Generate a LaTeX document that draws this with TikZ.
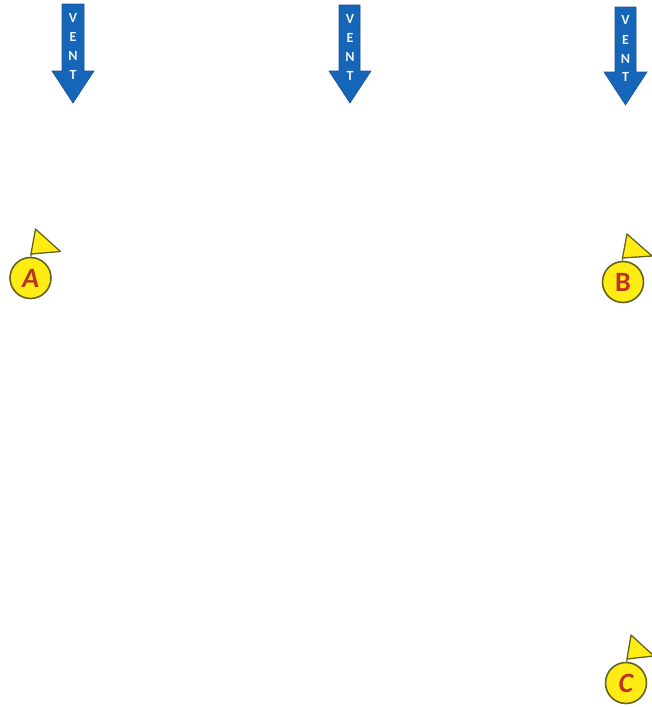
\documentclass[tikz,border=0pt]{standalone}
\usepackage{fontspec}
\setmainfont{Carlito}
\definecolor{ventblue}{RGB}{21,101,184}
\definecolor{ventedge}{RGB}{30,80,150}
\definecolor{markyellow}{RGB}{255,236,20}
\definecolor{markedge}{RGB}{100,100,30}
\definecolor{markred}{RGB}{190,50,30}
\begin{document}
\begin{tikzpicture}[x=1pt, y=-1pt]
        \tikzstyle{vent}=[fill=ventblue,draw=ventedge,line width=0.6pt,line join=miter]
        \tikzstyle{letter}=[text=white!92!ventblue,font=\bfseries\fontsize{14}{14}\selectfont,inner sep=0pt]
        \tikzstyle{marker}=[circle,fill=markyellow,draw=markedge,line width=1.6pt,minimum size=41pt,inner sep=0pt,text=markred,font=\bfseries\fontsize{28}{28}\selectfont]
        \tikzstyle{flag}=[fill=markyellow,draw=markedge,line width=1.3pt,line join=round]

        \useasboundingbox (0,0) rectangle (652,707);

        % vents
        \draw[vent] (62,4) -- (84,4) -- (84,71) -- (94,71) -- (73,103) -- (52,71) -- (62,71) -- cycle;
        \node[letter] (V_1) at (73,18)  {V};
        \node[letter] (E_1) at (73,37)  {E};
        \node[letter] (N_1) at (73,56)  {N};
        \node[letter] (T_1) at (73,75)  {T};

        \draw[vent] (339,5) -- (360,5) -- (360,71) -- (371,71) -- (350,103) -- (329,71) -- (339,71) -- cycle;
        \node[letter] (V_2) at (350,19)  {V};
        \node[letter] (E_2) at (350,38)  {E};
        \node[letter] (N_2) at (350,57)  {N};
        \node[letter] (T_2) at (350,76)  {T};

        \draw[vent] (615,7) -- (636,7) -- (636,72) -- (647,72) -- (625.5,105) -- (604,72) -- (615,72) -- cycle;
        \node[letter] (V_3) at (625.5,20)  {V};
        \node[letter] (E_3) at (625.5,40)  {E};
        \node[letter] (N_3) at (625.5,59)  {N};
        \node[letter] (T_3) at (625.5,77)  {T};

        % flags and markers
        \coordinate (F_1) at (35.5,229);
        \coordinate (G_1) at (60.5,251.5);
        \coordinate (H_1) at (31,254);
        \node[marker] (A) at (30.5,278)  {\itshape A};
        \draw[flag] (F_1) -- (G_1) -- (H_1) -- cycle;
        \draw[flag] (H_1) -- (A);

        \coordinate (F_2) at (627,234);
        \coordinate (G_2) at (652,256);
        \coordinate (H_2) at (622.5,258);
        \node[marker] (B) at (623,282)  {B};
        \draw[flag] (F_2) -- (G_2) -- (H_2) -- cycle;
        \draw[flag] (H_2) -- (B);

        \coordinate (F_3) at (631,635);
        \coordinate (G_3) at (654,656);
        \coordinate (H_3) at (627,659);
        \node[marker] (C) at (626,683)  {\itshape C};
        \draw[flag] (F_3) -- (G_3) -- (H_3) -- cycle;
        \draw[flag] (H_3) -- (C);
    \end{tikzpicture}
\end{document}
